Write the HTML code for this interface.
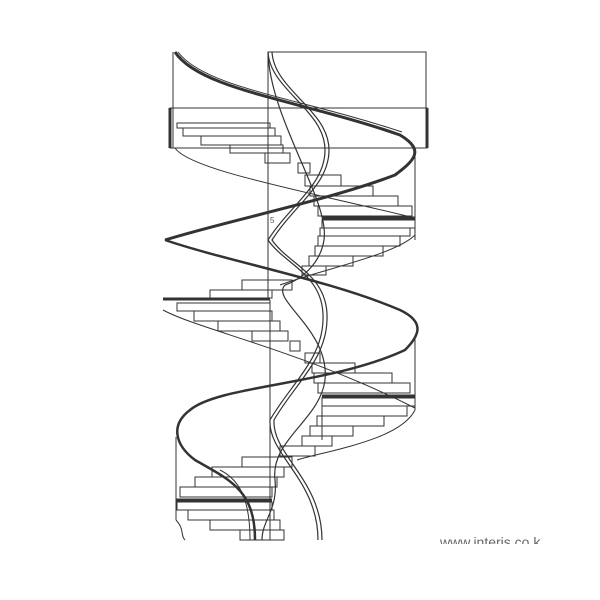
<!DOCTYPE html>
<html><head><style>
html,body{margin:0;padding:0;background:#fff;}
svg{display:block;}
</style></head><body>
<svg width="600" height="600" viewBox="0 0 600 600" xmlns="http://www.w3.org/2000/svg">
<g fill="none" stroke="#333" stroke-width="1">
<!-- top box -->
<rect x="268" y="52" width="158" height="56"/>
<line x1="173" y1="52" x2="173" y2="148"/>
<rect x="170" y="108" width="257" height="40"/>
<line x1="170" y1="108" x2="170" y2="148" stroke-width="3"/>
<line x1="427" y1="108" x2="427" y2="148" stroke-width="3"/>
<line x1="268" y1="52" x2="268" y2="300"/>
<line x1="415" y1="155" x2="415" y2="240"/>
<line x1="415" y1="335" x2="415" y2="410"/>
<line x1="176" y1="437" x2="176" y2="520"/>
<line x1="270" y1="300" x2="270" y2="540"/>
<line x1="322" y1="440" x2="322" y2="400" />
<!-- upper flight steps -->
<rect x="177" y="123" width="93" height="5"/>
<rect x="183" y="128" width="92" height="8"/>
<rect x="201" y="136" width="80" height="9"/>
<rect x="230" y="145" width="53" height="8"/>
<rect x="265" y="153" width="25" height="10"/>
<rect x="298" y="163" width="12" height="10"/>
<rect x="305" y="175" width="36" height="11"/>
<rect x="310" y="186" width="63" height="10"/>
<rect x="314" y="196" width="84" height="10"/>
<rect x="318" y="206" width="94" height="10"/>
<line x1="322" y1="218" x2="415" y2="218" stroke-width="3"/>
<rect x="322" y="220" width="93" height="8"/>
<rect x="320" y="228" width="90" height="8"/>
<rect x="318" y="236" width="82" height="10"/>
<rect x="315" y="246" width="68" height="10"/>
<rect x="309" y="256" width="44" height="10"/>
<rect x="302" y="266" width="24" height="9"/>
<rect x="242" y="280" width="50" height="10"/>
<rect x="210" y="290" width="62" height="8"/>
<line x1="163" y1="299" x2="270" y2="299" stroke-width="3"/>
<rect x="177" y="303" width="93" height="8"/>
<rect x="194" y="311" width="78" height="10"/>
<rect x="218" y="321" width="62" height="10"/>
<rect x="252" y="331" width="36" height="10"/>
<rect x="290" y="341" width="10" height="10"/>
<!-- lower right steps -->
<rect x="305" y="353" width="15" height="10"/>
<rect x="312" y="363" width="43" height="10"/>
<rect x="314" y="373" width="78" height="10"/>
<rect x="318" y="383" width="92" height="10"/>
<line x1="322" y1="396" x2="415" y2="396" stroke-width="3"/>
<rect x="322" y="398" width="93" height="8"/>
<rect x="322" y="406" width="85" height="10"/>
<rect x="317" y="416" width="67" height="10"/>
<rect x="310" y="426" width="43" height="10"/>
<rect x="302" y="436" width="30" height="10"/>
<rect x="280" y="446" width="35" height="10"/>
<rect x="242" y="457" width="50" height="10"/>
<rect x="212" y="467" width="72" height="10"/>
<rect x="195" y="477" width="82" height="10"/>
<rect x="180" y="487" width="92" height="10"/>
<line x1="176" y1="500" x2="272" y2="500" stroke-width="3"/>
<rect x="177" y="502" width="95" height="8"/>
<rect x="188" y="510" width="86" height="10"/>
<rect x="210" y="520" width="70" height="10"/>
<rect x="240" y="530" width="44" height="10"/>
<!-- outer helix (thick) -->
<path d="M175,52 C200,90 300,100 400,135 C425,150 415,160 395,175 C330,200 230,220 165,240" stroke-width="3"/>
<path d="M165,240 C230,262 330,280 400,310 C425,322 420,335 405,350 C330,385 220,385 190,410 C170,425 175,445 195,460 C230,480 255,490 255,540" stroke-width="2.5"/>
<path d="M178,52 C205,88 300,98 402,132" stroke-width="1"/>
<!-- thin lower curves -->
<path d="M175,148 C190,170 300,190 415,218"/>
<path d="M415,235 C395,255 320,270 280,285"/>
<path d="M163,310 C200,330 300,350 415,408"/>
<path d="M415,410 C400,440 330,450 297,460"/>
<path d="M176,520 C185,530 180,535 185,540"/>
<!-- inner helix (double) -->
<path d="M268,52 C270,90 325,110 325,150 C325,185 290,205 268,240 C285,265 325,275 323,320 C322,360 290,385 270,420 C268,455 318,480 318,540" stroke-width="1.2"/>
<path d="M272,52 C274,90 329,110 329,150 C329,185 294,205 272,240 C289,265 329,275 327,320 C326,360 294,385 274,420 C272,455 322,480 322,540" stroke-width="1.2"/>
<!-- crossing inner curves -->
<path d="M268,52 C270,120 330,200 324,240 C320,265 300,280 285,285 C270,300 330,330 325,380 C320,420 270,440 275,480 C278,510 262,520 262,540" stroke-width="1.2"/>
<path d="M250,540 C250,500 240,480 220,470"/>
<line x1="268" y1="228" x2="268" y2="240"/>
</g>
<rect x="0" y="541" width="600" height="59" fill="#fff"/>
<text x="270" y="223" font-family="Liberation Sans, sans-serif" font-size="8" fill="#555">5</text>
<g>
<text x="440" y="547" font-family="Liberation Sans, sans-serif" font-size="14" fill="#666">www.interis.co.k</text>
<rect x="430" y="544" width="130" height="20" fill="#fff"/>
</g>
</svg>
</body></html>
